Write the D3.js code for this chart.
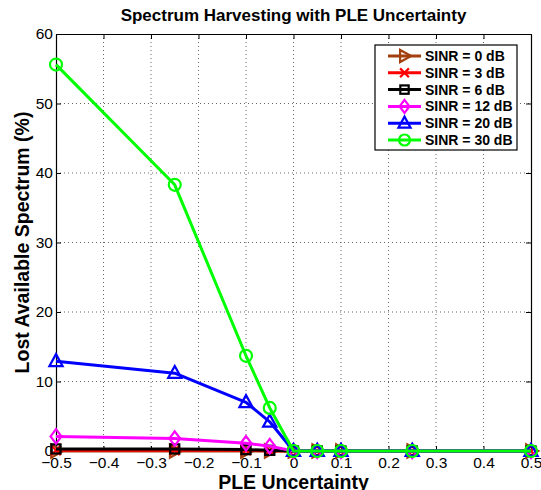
<!DOCTYPE html>
<html>
<head>
<meta charset="utf-8">
<script src="https://cdn.jsdelivr.net/npm/d3@7"></script>
<style>
body { margin: 0; background: #fff; }
text { font-family: "Liberation Sans", Arial, Helvetica, sans-serif; }
</style>
</head>
<body>
<svg id="chart" width="541" height="490"></svg>
<script>
// data
var xVals = [-0.5, -0.25, -0.1, -0.05, 0, 0.05, 0.1, 0.25, 0.5];
var sinr0  = [0.0, 0.0, 0.0, 0.0, 0, 0, 0, 0, 0];
var sinr3  = [0.1, 0.1, 0.1, 0.05, 0, 0, 0, 0, 0];
var sinr6  = [0.3, 0.3, 0.2, 0.1, 0, 0, 0, 0, 0];
var sinr12 = [2.1, 1.8, 1.1, 0.7, 0, 0, 0, 0, 0];
var sinr20 = [12.9, 11.2, 7.0, 4.2, 0, 0, 0, 0, 0];
var sinr30 = [55.6, 38.3, 13.7, 6.2, 0, 0, 0, 0, 0];
var seriesNames = ["SINR = 0 dB", "SINR = 3 dB", "SINR = 6 dB", "SINR = 12 dB", "SINR = 20 dB", "SINR = 30 dB"];
var seriesColors = ["#a3400f", "#ff0000", "#000000", "#ff00ff", "#0000ff", "#00ff00"];
var seriesMarkers = ["triright", "cross", "square", "diamond", "triangle", "circle"];
var xTicks = [-0.5, -0.4, -0.3, -0.2, -0.1, 0, 0.1, 0.2, 0.3, 0.4, 0.5];
var yTicks = [0, 10, 20, 30, 40, 50, 60];

var allSeries = [sinr0, sinr3, sinr6, sinr12, sinr20, sinr30];

var svg = d3.select("#chart"),
    margin = {top: 34, right: 10, bottom: 39, left: 56},
    width = +svg.attr("width") - margin.left - margin.right,
    height = +svg.attr("height") - margin.top - margin.bottom,
    g = svg.append("g").attr("transform", "translate(" + margin.left + "," + margin.top + ")");

var x = d3.scaleLinear().domain([-0.5, 0.5]).range([0, width]);
var y = d3.scaleLinear().domain([0, 60]).range([height, 0]);

// grid
g.append("g").selectAll("line").data(xTicks.slice(1, -1)).enter().append("line")
  .attr("x1", x).attr("x2", x).attr("y1", 0).attr("y2", height)
  .attr("stroke", "#666").attr("stroke-width", 1).attr("stroke-dasharray", "1,3");
g.append("g").selectAll("line").data(yTicks.slice(1, -1)).enter().append("line")
  .attr("x1", 0).attr("x2", width).attr("y1", y).attr("y2", y)
  .attr("stroke", "#666").attr("stroke-width", 1).attr("stroke-dasharray", "1,3");

// axes (MATLAB style: inward ticks on all sides)
var ax = g.append("g").attr("class", "ax");
ax.append("g").attr("transform", "translate(0," + height + ")")
  .call(d3.axisBottom(x).tickValues(xTicks).tickSize(-5).tickSizeOuter(0).tickPadding(6).tickFormat(function(d) {
    if (d == 0) return "0";
    return d3.format(".1f")(d).replace("-", "\u2212");
  }));
ax.append("g")
  .call(d3.axisTop(x).tickValues(xTicks).tickSize(-5).tickSizeOuter(0).tickFormat(""));
ax.append("g")
  .call(d3.axisLeft(y).tickValues(yTicks).tickSize(-5).tickSizeOuter(0).tickPadding(3));
ax.append("g").attr("transform", "translate(" + width + ",0)")
  .call(d3.axisRight(y).tickValues(yTicks).tickSize(-5).tickSizeOuter(0).tickFormat(""));
ax.selectAll("path.domain").attr("stroke", "#000").attr("stroke-width", 1.2);
ax.selectAll(".tick line").attr("stroke", "#000");
ax.selectAll("text").attr("font-size", "15.5px").attr("fill", "#000")
  .style("font-family", "'Liberation Sans', Arial, sans-serif");

// markers
function drawMarker(sel, type, color, s) {
  var p;
  if (type == "circle") {
    p = sel.append("circle").attr("r", s * 0.5);
  } else if (type == "triangle") {
    p = sel.append("path").attr("d", "M0," + (-s * 0.6) + "L" + (s * 0.55) + "," + (s * 0.4) + "L" + (-s * 0.55) + "," + (s * 0.4) + "Z");
  } else if (type == "triright") {
    p = sel.append("path").attr("d", "M" + (s * 0.6) + ",0L" + (-s * 0.4) + "," + (-s * 0.55) + "L" + (-s * 0.4) + "," + (s * 0.55) + "Z");
  } else if (type == "diamond") {
    p = sel.append("path").attr("d", "M0," + (-s * 0.6) + "L" + (s * 0.45) + ",0L0," + (s * 0.6) + "L" + (-s * 0.45) + ",0Z");
  } else if (type == "square") {
    p = sel.append("rect").attr("x", -s * 0.38).attr("y", -s * 0.38).attr("width", s * 0.76).attr("height", s * 0.76);
  } else if (type == "cross") {
    p = sel.append("path").attr("d", "M" + (-s * 0.4) + "," + (-s * 0.4) + "L" + (s * 0.4) + "," + (s * 0.4) + "M" + (-s * 0.4) + "," + (s * 0.4) + "L" + (s * 0.4) + "," + (-s * 0.4));
  }
  p.attr("fill", "none").attr("stroke", color).attr("stroke-width", 2.2);
}

var line = d3.line().x(function(d, i) { return x(xVals[i]); }).y(function(d) { return y(d); });

allSeries.forEach(function(vals, k) {
  var sg = g.append("g").attr("class", "serie");
  sg.append("path").datum(vals).attr("d", line)
    .attr("fill", "none").attr("stroke", seriesColors[k]).attr("stroke-width", 3).attr("stroke-linejoin", "round");
  vals.forEach(function(v, i) {
    var m = sg.append("g").attr("transform", "translate(" + x(xVals[i]) + "," + y(v) + ")");
    drawMarker(m, seriesMarkers[k], seriesColors[k], 12);
  });
});

// legend
var lg = svg.append("g").attr("transform", "translate(375,45)");
lg.append("rect").attr("width", 142).attr("height", 105).attr("fill", "#fff").attr("stroke", "#000").attr("stroke-width", 1.2);
seriesNames.forEach(function(name, i) {
  var row = lg.append("g").attr("transform", "translate(0," + (11 + i * 16.8) + ")");
  row.append("line").attr("x1", 13).attr("x2", 46).attr("stroke", seriesColors[i]).attr("stroke-width", 3);
  drawMarker(row.append("g").attr("transform", "translate(29.5,0)"), seriesMarkers[i], seriesColors[i], 11);
  row.append("text").attr("x", 50).attr("dy", "0.36em").attr("font-size", "14px").attr("font-weight", "bold").text(name);
});

// titles
svg.append("text").attr("x", margin.left + width / 2).attr("y", 21).attr("text-anchor", "middle")
  .attr("font-size", "17px").attr("font-weight", "bold").text("Spectrum Harvesting with PLE Uncertainty");
svg.append("text").attr("x", margin.left + width / 2).attr("y", 489).attr("text-anchor", "middle")
  .attr("font-size", "19.5px").attr("font-weight", "bold").text("PLE Uncertainty");
svg.append("text").attr("transform", "translate(29," + (margin.top + height / 2) + ") rotate(-90)").attr("text-anchor", "middle")
  .attr("font-size", "19.5px").attr("font-weight", "bold").text("Lost Available Spectrum (%)");
</script>
</body>
</html>
